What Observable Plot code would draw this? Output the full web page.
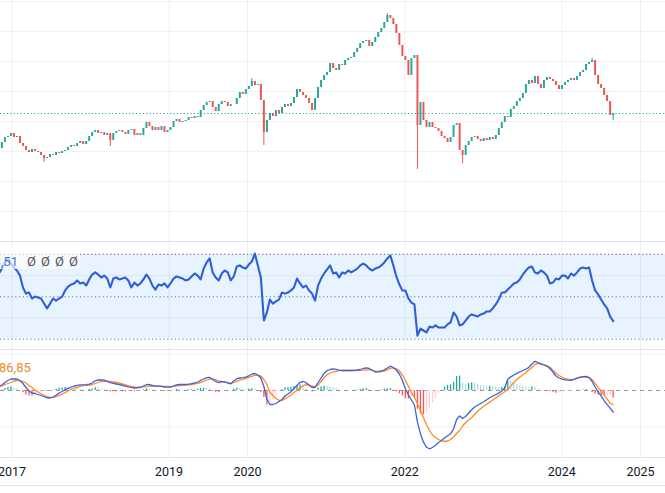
<!DOCTYPE html>
<html><head><meta charset="utf-8">
<script src="https://cdn.jsdelivr.net/npm/d3@7"></script>
<script src="https://cdn.jsdelivr.net/npm/@observablehq/plot@0.6"></script>
<style>
html,body{margin:0;padding:0;background:#fff;overflow:hidden}
#wrap{position:relative;width:665px;height:493px;font-family:Roboto,sans-serif;overflow:hidden}
.pane{position:absolute;left:0;width:665px}
.pane svg{display:block}
.sep{position:absolute;left:0;width:665px;height:1px;background:#e0e3eb}
.lbl{position:absolute;font-size:13px;white-space:nowrap;line-height:13px;font-family:Roboto,sans-serif}
</style></head><body><div id="wrap"></div><script>
// ---- data (arbitrary price units, one bar every two weeks) ----
const firstBar = "2016-11-01";
const closes = [
 93,99,104,105,108,104,105,98,95,91,
 89,92,90,89,86,83,84,87,86,89,
 88,90,91,94,96,95,98,100,97,100,
 105,109,111,108,109,106,108,101,108,110,
 111,109,107,111,112,106,108,106,113,119,
 115,111,114,111,115,109,111,114,120,122,
 119,120,121,124,123,125,124,131,136,139,
 140,134,130,137,140,139,135,137,137,143,
 149,147,152,155,160,156,157,141,109,121,
 128,125,131,128,134,137,135,138,144,152,
 149,146,143,138,131,143,154,161,166,169,
 178,173,171,177,176,181,183,184,189,193,
 198,200,201,195,199,204,209,213,219,226,
 223,217,208,196,185,181,166,183,186,116,
 139,121,114,119,114,113,110,105,103,99,
 104,116,118,91,86,96,100,104,105,102,
 100,103,101,104,102,106,113,119,125,124,
 132,135,140,143,148,157,161,158,165,157,
 153,161,164,162,160,156,152,156,159,161,
 163,161,165,169,171,177,179,181,166,157,
 153,146,140,126,128
];
const firstOpen = 90;
const wickLows = [[15,79],[37,95],[88,96],[139,72],[154,78],[204,121]];
const wickHighs = [[84,163],[129,228],[197,183]];
const rsi = [
 61.0,63.3,66.2,68.1,65.7,63.8,62.4,60.0,54.4,51.5,
 52.0,49.2,50.1,49.7,49.2,46.8,44.5,46.8,49.2,48.2,
 49.2,50.1,53.0,54.8,55.8,56.3,57.7,56.3,56.7,55.3,
 58.2,60.5,61.5,60.5,59.1,60.0,58.6,54.4,58.6,59.1,
 58.2,58.6,59.1,57.7,54.4,56.7,55.3,56.3,58.2,60.5,
 58.6,55.3,53.4,55.8,55.3,56.3,54.4,56.3,58.6,59.6,
 59.1,58.6,57.7,58.2,59.6,61.0,60.0,58.2,63.3,66.2,
 68.1,61.5,59.1,57.7,61.0,62.4,61.5,57.7,59.6,64.3,
 64.8,63.8,63.3,65.2,66.6,70.4,64.8,59.1,38.8,42.6,
 48.7,46.8,47.8,48.7,52.0,51.5,52.0,53.0,54.4,58.6,
 56.3,54.4,55.3,53.0,51.5,48.2,55.3,58.6,61.0,62.9,
 64.8,61.0,61.5,59.1,61.5,61.0,62.4,61.5,62.4,63.3,
 64.8,65.7,64.8,63.3,62.4,63.3,63.8,64.8,66.2,68.1,
 69.5,64.8,59.6,55.8,53.0,53.0,49.2,47.3,46.4,31.7,
 35.0,34.1,33.2,36.0,35.5,36.5,35.5,35.5,35.5,37.0,
 37.9,42.6,40.7,36.5,37.0,38.8,40.7,41.7,41.2,40.7,
 41.7,42.1,43.1,43.1,44.5,46.4,48.7,52.0,52.0,53.4,
 54.8,56.3,56.7,58.2,60.5,62.4,63.8,64.3,61.5,61.0,
 62.4,61.5,60.0,56.3,56.7,58.6,58.2,60.0,60.0,58.6,
 61.0,60.0,61.5,63.3,63.8,63.3,63.8,57.7,53.0,51.1,
 48.7,46.4,44.5,40.7,38.5
];
const macd = [
 4.5,5.5,8,10,11.5,11.7,11.5,10,7,3,
 -0.5,-2.5,-3,-4,-5,-6,-7.3,-7.5,-6.5,-4.8,
 -2.5,-1,0.8,2.2,3.5,4.5,5.2,5.7,5.7,5.8,
 6.4,7.5,9.7,10.5,10.7,10.3,9.2,7.8,7.2,6.5,
 6,5.2,4.4,3.7,3.1,2.5,2.7,3.2,4.5,6,
 5.8,5,4.3,4.3,4.1,3.5,3.3,3.3,4.5,5.7,
 6,6,6,6.4,6.9,7.5,8.5,10,11.5,12.8,
 13.2,11,9,7.8,8.8,8.5,7.5,6.7,9.5,11.8,
 12.5,12.8,13.3,14.7,16.3,17,15.5,12.5,4,-8.5,
 -14,-14,-13,-11,-9,-5.5,-3.5,-1.3,2,5,
 8.2,9,7.8,5.5,3,3.2,8,12.5,17.2,19.8,
 21,21.6,21.2,20.3,20,20,20,20,20.2,20.5,
 21,22,22.7,22,20.3,18.5,18.7,19.5,20.6,22.5,
 24.3,23,20.5,16.5,10,1.7,-4.5,-9.5,-14.5,-31.7,
 -43.3,-51.7,-56.7,-58.3,-57,-54.8,-52,-50,-47.5,-45.3,
 -43.3,-38.5,-29,-25.5,-28,-26,-22.5,-19.2,-16.5,-14.8,
 -13,-11.3,-9.3,-7.3,-5.5,-4.2,-2.6,-0.5,2.5,11.5,
 13.6,15.5,17.1,18.7,20,21.3,23.2,26.5,29.2,28,
 26.4,25.5,24.2,22,18.5,14.5,12.5,11.4,10.7,10.4,
 10.2,11.2,12.4,13.3,13.9,14.1,12.8,9,3.5,-1.3,
 -5.3,-10.2,-14.1,-17.6,-21.5
];
const signal = [
 3.5,4.5,6,7,8,9.5,10,10,9,7.5,
 5,3,0.5,-1.5,-3.3,-5,-6.2,-7,-6.8,-6,
 -4.8,-3.6,-2.2,-0.5,1.2,2.5,3.2,4.2,4.8,5.2,
 5.4,6,7,8,9,9.2,9.2,9,8.5,8,
 7.3,6.5,5.7,4.8,4.2,3.7,3.4,3.4,3.7,4.2,
 4.5,4.5,4.4,4.4,4.4,4.2,4,3.9,4.2,4.6,
 5,5.2,5.5,5.7,6,6.6,7.2,8,9.2,10.5,
 11.4,11.5,10.7,9.7,9,8.5,8,7,8,9.2,
 10.3,11.2,12.1,13.2,14.2,15.3,15.2,14.5,11,6,
 -1.5,-5,-8,-9.8,-9.8,-8.3,-6.5,-4.6,-2,0.2,
 2.8,4.8,5.8,5.4,4.5,3.8,5.4,9,13,15.8,
 17.5,18.5,19.2,19.8,20,20,20,20,20,20,
 20.1,20.3,20.6,20.7,20.2,19.3,19,19,19.3,20.7,
 22.4,22.4,21.7,19.7,15.5,10,4,-2,-6.8,-13,
 -20,-27.3,-34,-40,-44.5,-47,-49,-50.2,-51,-50.5,
 -49,-46.5,-43,-40,-35.5,-32,-29.5,-27,-23.8,-20.8,
 -18,-15.8,-13.6,-11.6,-9.5,-7.4,-5.2,-3.2,-1.3,1.2,
 4.4,8,11,13.5,15.7,17.8,20.8,23,26,26.8,
 27,26,25,23.2,20.3,17.3,15,13.2,12,11.4,
 11,11.4,12.2,13,13.3,13.4,12.9,11,7.2,3.2,
 -0.3,-4.7,-8.7,-12.7,-14
];
const yearLabels = ["2017","2019","2020","2022","2024","2025"];
const priceGrid = [30,60,90,120,150,180,210,240];
const rsiLevels = [30,50,70];
const rsiGrid = [40,60];
const macdGrid = [-36.5,36.5];
const rsiLabel = "38,51";
const rsiDots = ["Ø","Ø","Ø","Ø"];
const macdLabel = "86,85";

// ---- build ----
const UP = "#26a69a", DOWN = "#ef5350", GRID = "#eef0f4";
const t0 = new Date(firstBar + "T00:00:00Z");
const dates = closes.map((_, i) => d3.utcDay.offset(t0, 14 * i));
const yearDates = yearLabels.map(s => new Date(s + "-01-01T00:00:00Z"));
const T17 = +yearDates[0], T25 = +yearDates[yearDates.length - 1];
const k = 628.5 / (T25 - T17);
const xOpt = {type: "utc", domain: [new Date(T17 - 11.5 / k), new Date(T17 + 653.5 / k)], range: [0, 665], axis: null};

const lowMap = new Map(wickLows), highMap = new Map(wickHighs);
const candles = closes.map((c, i) => {
  const o = i === 0 ? firstOpen : closes[i - 1];
  return {date: dates[i], open: o, close: c,
    high: highMap.has(i) ? highMap.get(i) : Math.max(o, c),
    low: lowMap.has(i) ? lowMap.get(i) : Math.min(o, c),
    col: c >= o ? UP : DOWN};
});
const rsiData = rsi.map((v, i) => ({date: dates[i], v}));
const macdData = macd.map((m, i) => {
  const h = m - signal[i];
  const hp = i > 0 ? macd[i - 1] - signal[i - 1] : h;
  const col = h >= 0 ? (hp < h ? "#26a69a" : "#b2dfdb") : (hp < h ? "#ffcdd2" : "#ff5252");
  return {date: dates[i], m, s: signal[i], h, col};
});

const wrap = document.getElementById("wrap");
function pane(top, node) {
  const d = document.createElement("div");
  d.className = "pane"; d.style.top = top + "px";
  d.appendChild(node); wrap.appendChild(d);
}
function sep(top) {
  const d = document.createElement("div");
  d.className = "sep"; d.style.top = top + "px"; wrap.appendChild(d);
}
function label(text, left, top, color, anchorRight) {
  const d = document.createElement("div");
  d.className = "lbl"; d.textContent = text; d.style.top = top + "px"; d.style.color = color;
  if (anchorRight) { d.style.right = (665 - left) + "px"; } else { d.style.left = left + "px"; }
  wrap.appendChild(d);
}

// price pane
pane(0, Plot.plot({
  width: 665, height: 241, margin: 0, x: xOpt,
  y: {domain: [0, 240], range: [241, 1], axis: null},
  color: {type: "identity"},
  marks: [
    Plot.ruleX(yearDates, {stroke: GRID}),
    Plot.ruleY(priceGrid, {stroke: GRID}),
    Plot.ruleY([closes[closes.length - 1]], {stroke: UP, strokeDasharray: "1.2,2.2", strokeWidth: 1.2}),
    Plot.ruleX(candles, {x: "date", y1: "low", y2: "high", stroke: "col", strokeWidth: 1}),
    Plot.ruleX(candles, {x: "date", y1: "open", y2: "close", stroke: "col", strokeWidth: 1.9})
  ]
}));
sep(241);

// RSI pane
pane(242, Plot.plot({
  width: 665, height: 107, margin: 0, x: xOpt,
  y: {domain: [25, 75], range: [107.3, 1.3], axis: null},
  marks: [
    Plot.ruleX(yearDates, {stroke: GRID}),
    Plot.rect([{a: xOpt.domain[0], b: xOpt.domain[1], lo: rsiLevels[0], hi: rsiLevels[2]}],
      {x1: "a", x2: "b", y1: "lo", y2: "hi", fill: "#2196f3", fillOpacity: 0.11}),
    Plot.ruleY(rsiGrid, {stroke: "#dfe6ef"}),
    Plot.ruleY(rsiLevels, {stroke: "#787b86", strokeDasharray: "1.2,2.6", strokeWidth: 1.1}),
    Plot.line(rsiData, {x: "date", y: "v", stroke: "#2f5fd6", strokeWidth: 2.1})
  ]
}));
sep(349);

// MACD pane
pane(350, Plot.plot({
  width: 665, height: 107, margin: 0, x: xOpt,
  y: {domain: [-67, 40], range: [107, 0], axis: null},
  color: {type: "identity"},
  marks: [
    Plot.ruleX(yearDates, {stroke: GRID}),
    Plot.ruleY(macdGrid, {stroke: GRID}),
    Plot.ruleY([0], {stroke: "#9598a1", strokeDasharray: "4,4"}),
    Plot.ruleX(macdData, {x: "date", y1: 0, y2: "h", stroke: "col", strokeWidth: 1.3}),
    Plot.line(macdData, {x: "date", y: "s", stroke: "#ff8a25", strokeWidth: 1.3}),
    Plot.line(macdData, {x: "date", y: "m", stroke: "#3d63d8", strokeWidth: 1.3})
  ]
}));
sep(457);

// time axis
pane(458, Plot.plot({
  width: 665, height: 27, margin: 0, x: xOpt,
  marks: [
    Plot.text(yearDates, {x: d => d, text: (d, i) => yearLabels[i], frameAnchor: "middle",
      fontSize: 12.5, fill: "#131722", fontFamily: "Roboto"})
  ]
}));
sep(485);

// legends
const bg = document.createElement("div");
bg.style.cssText = "position:absolute;left:0;top:249px;width:80px;height:20px;background:rgba(255,255,255,0.65)";
wrap.appendChild(bg);
label(rsiLabel, 18, 255, "#4a72d8", true);
rsiDots.forEach((s, i) => label(s, 27 + 14 * i, 255, "#555", false));
label(macdLabel, -1, 361, "#ef8a30", false);
</script></body></html>
